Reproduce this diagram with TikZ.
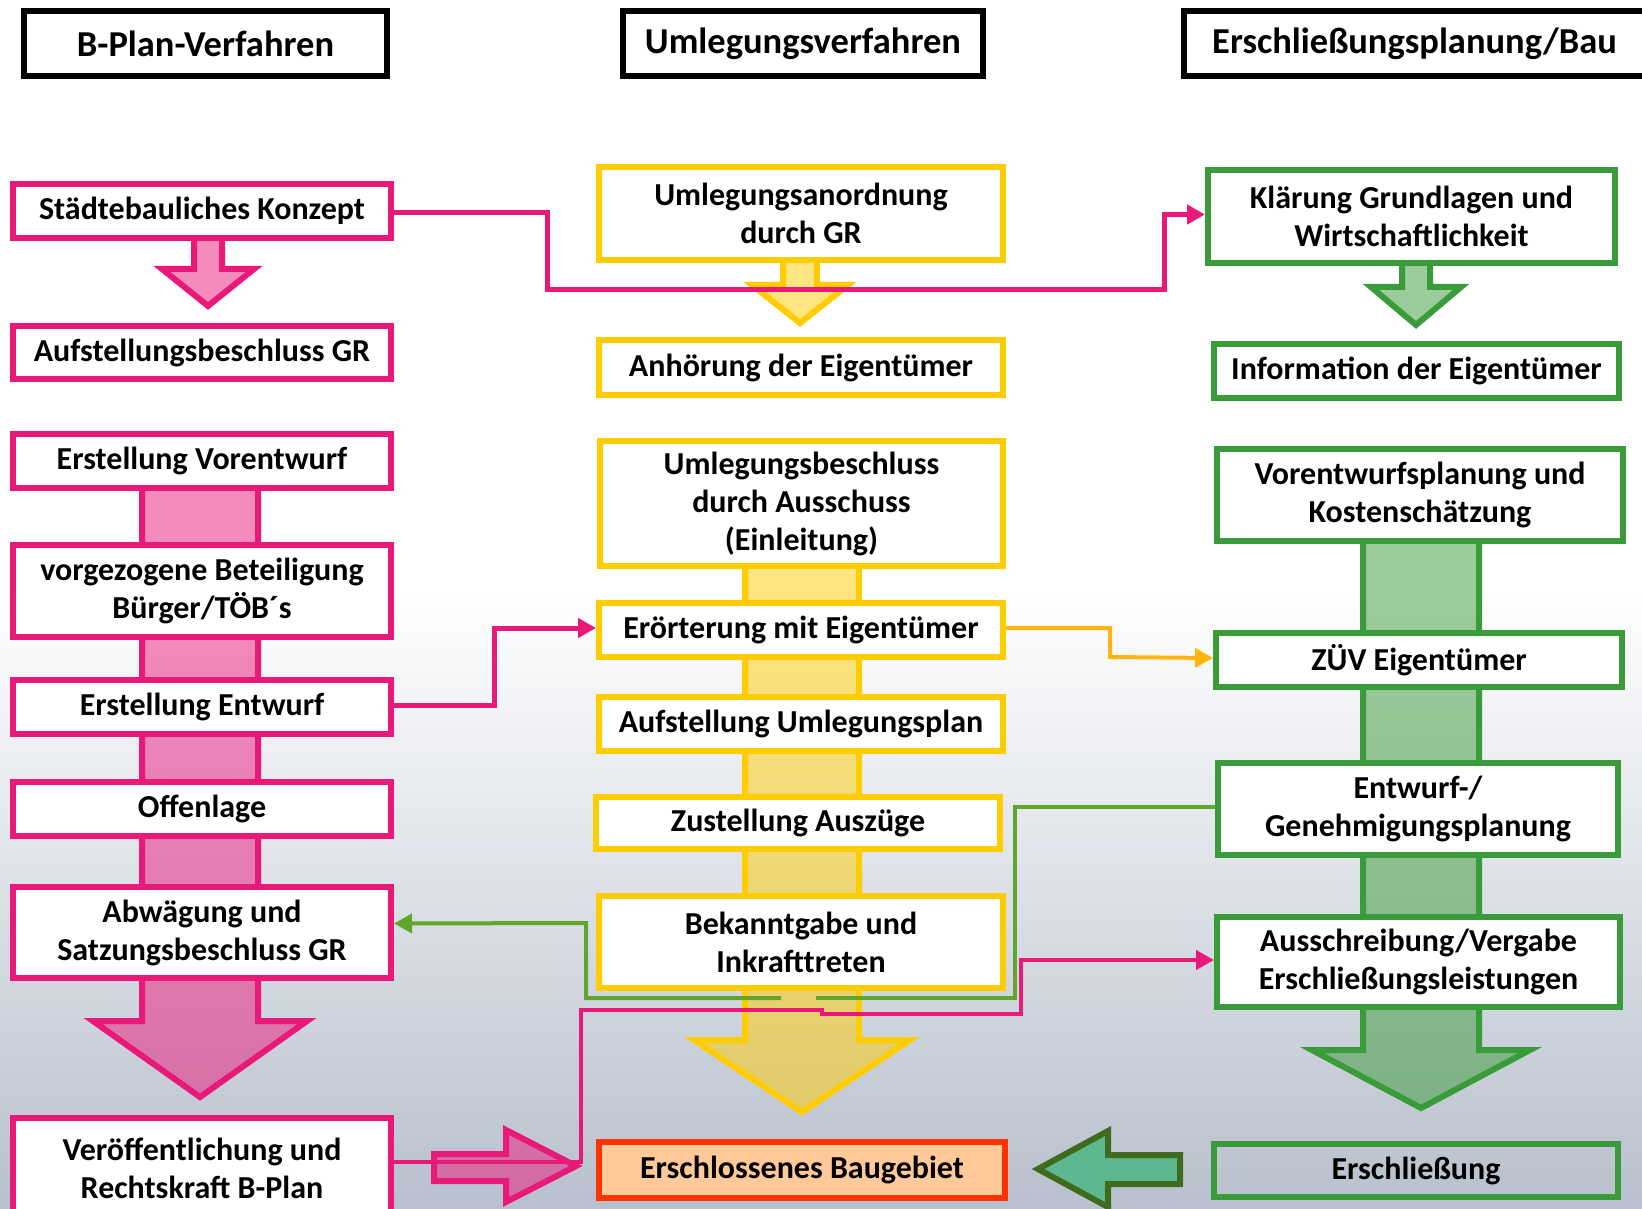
\documentclass[tikz,border=0pt]{standalone}
\usepackage{fontspec}
\setmainfont{Carlito}
\usetikzlibrary{positioning, arrows.meta}

\definecolor{planColor}{RGB}{233,25,122}
\definecolor{umlegColor}{RGB}{255,204,0}
\definecolor{bauColor}{RGB}{57,155,57}
\definecolor{linkOrange}{RGB}{255,181,14}
\definecolor{linkGreen}{RGB}{96,165,44}
\definecolor{goalFill}{RGB}{255,201,153}
\definecolor{goalBorder}{RGB}{255,51,0}
\definecolor{bgBottom}{RGB}{184,192,205}
\definecolor{tealFill}{RGB}{92,184,142}
\definecolor{oliveBorder}{RGB}{63,107,30}

\tikzstyle{stepText} = [font=\fontsize{32}{38}\selectfont\bfseries, align=center, inner sep=0pt, yshift=-2pt]
\tikzstyle{headBox} = [stepText, draw=black, line width=6, fill=white, font=\fontsize{36.5}{42}\selectfont\bfseries]
\tikzstyle{planBox} = [stepText, draw=planColor, line width=6, fill=white]
\tikzstyle{umlegBox} = [stepText, draw=umlegColor, line width=6, fill=white]
\tikzstyle{bauBox} = [stepText, draw=bauColor, line width=6, fill=white]
\tikzstyle{goalBox} = [stepText, draw=goalBorder, line width=6, fill=goalFill]
\tikzstyle{planArrow} = [draw=planColor, line width=6, fill=planColor, fill opacity=0.5, line join=miter]
\tikzstyle{umlegArrow} = [draw=umlegColor, line width=6, fill=umlegColor, fill opacity=0.5, line join=miter]
\tikzstyle{bauArrow} = [draw=bauColor, line width=6, fill=bauColor, fill opacity=0.5, line join=miter]
\tikzstyle{goalArrow} = [draw=oliveBorder, line width=6, fill=tealFill, line join=miter]
\tikzstyle{linkTip} = [-{Triangle[length=18pt, width=19pt]}]
\tikzstyle{planLink} = [draw=planColor, line width=5]
\tikzstyle{orangeLink} = [draw=linkOrange, line width=4]
\tikzstyle{greenLink} = [draw=linkGreen, line width=4]

% box from (x1,y1) to (x2,y2), outer edges in pixels
\newcommand{\stepBox}[7]{\node [#1, minimum width = #5 - #3 - 6, minimum height = #6 - #4 - 6] (#2) at ({(#3 + #5) / 2}, {(#4 + #6) / 2}) {#7};}
% downward block arrow: centre, half shaft, half head, top, head start, tip
\newcommand{\arrowDown}[7]{\filldraw [#1] (#2 - #3, #5) -- (#2 + #3, #5) -- (#2 + #3, #6) -- (#2 + #4, #6) -- (#2, #7) -- (#2 - #4, #6) -- (#2 - #3, #6) -- cycle;}

\begin{document}
\begin{tikzpicture}[x=1pt, y=-1pt]
  \useasboundingbox (0,0) rectangle (1642,1209);
  \clip (0,0) rectangle (1642,1209);
  \fill [white] (0,0) rectangle (1642,1209);
  \shade [top color=white, bottom color=bgBottom] (0,590) rectangle (1642,1209);

  % block arrows
  \arrowDown{planArrow}{208}{14}{46}{236}{269}{306}
  \arrowDown{planArrow}{200}{58}{107}{459}{1021}{1097}
  \arrowDown{umlegArrow}{800}{17}{48}{258}{285}{323}
  \arrowDown{umlegArrow}{802}{57}{108}{500}{1040}{1112}
  \arrowDown{bauArrow}{1416}{14}{45}{262}{287}{325}
  \arrowDown{bauArrow}{1421}{58}{109}{493}{1050}{1108}
  \filldraw [planArrow] (434,1154) -- (506,1154) -- (506,1130) -- (576,1166) -- (506,1202) -- (506,1181) -- (434,1181) -- cycle;
  \filldraw [goalArrow] (1180,1155) -- (1108,1155) -- (1108,1131) -- (1038,1169) -- (1108,1207) -- (1108,1184) -- (1180,1184) -- cycle;

  % headers
  \stepBox{headBox}{bplanHead}{21}{6}{390}{77}{B-Plan-Verfahren}
  \stepBox{headBox}{umlegHead}{620}{6}{986}{77}{Umlegungsverfahren}
  \stepBox{headBox}{bauHead}{1181}{6}{1648}{77}{Erschließungsplanung/Bau}

  % B-Plan
  \stepBox{planBox}{konzept}{10}{179}{394}{239}{Städtebauliches Konzept}
  \stepBox{planBox}{aufstellung}{10}{321}{394}{380}{Aufstellungsbeschluss GR}
  \stepBox{planBox}{vorentwurf}{10}{429}{394}{489}{Erstellung Vorentwurf}
  \stepBox{planBox}{beteiligung}{10}{540}{394}{638}{vorgezogene Beteiligung\\Bürger/TÖB´s}
  \stepBox{planBox}{entwurf}{10}{675}{394}{735}{Erstellung Entwurf}
  \stepBox{planBox}{offenlage}{10}{777}{394}{837}{Offenlage}
  \stepBox{planBox}{abwaegung}{10}{882}{394}{979}{Abwägung und\\Satzungsbeschluss GR}
  \stepBox{planBox}{veroeff}{10}{1113}{394}{1219}{Veröffentlichung und\\Rechtskraft B-Plan}

  % Umlegung
  \stepBox{umlegBox}{anordnung}{596}{162}{1006}{261}{Umlegungsanordnung\\durch GR}
  \stepBox{umlegBox}{anhoerung}{596}{335}{1006}{396}{Anhörung der Eigentümer}
  \stepBox{umlegBox}{beschluss}{597}{436}{1006}{567}{Umlegungsbeschluss\\durch Ausschuss\\(Einleitung)}
  \stepBox{umlegBox}{eroerterung}{596}{598}{1006}{658}{Erörterung mit Eigentümer}
  \stepBox{umlegBox}{umlegPlan}{596}{692}{1006}{752}{Aufstellung Umlegungsplan}
  \stepBox{umlegBox}{zustellung}{593}{792}{1003}{850}{Zustellung Auszüge}
  \stepBox{umlegBox}{bekanntgabe}{596}{891}{1006}{989}{Bekanntgabe und\\Inkrafttreten}
  \stepBox{goalBox}{baugebiet}{596}{1137}{1008}{1199}{Erschlossenes Baugebiet}

  % Erschliessung
  \stepBox{bauBox}{klaerung}{1205}{165}{1618}{264}{Klärung Grundlagen und\\Wirtschaftlichkeit}
  \stepBox{bauBox}{information}{1211}{339}{1622}{399}{Information der Eigentümer}
  \stepBox{bauBox}{vorplanung}{1214}{444}{1626}{542}{Vorentwurfsplanung und\\Kostenschätzung}
  \stepBox{bauBox}{zuev}{1213}{628}{1625}{688}{ZÜV Eigentümer}
  \stepBox{bauBox}{genehm}{1215}{758}{1621}{856}{Entwurf-/\\Genehmigungsplanung}
  \stepBox{bauBox}{ausschreibung}{1214}{912}{1623}{1008}{Ausschreibung/Vergabe\\Erschließungsleistungen}
  \stepBox{bauBox, fill=none}{erschliessung}{1211}{1139}{1621}{1198}{Erschließung}

  % connectors
  \draw [planLink, linkTip] ([yshift=-2pt]konzept.east) -| (547,290) -- (1164,290) |- ([yshift=2pt]klaerung.west);
  \draw [planLink, linkTip] ([yshift=2pt]entwurf.east) -| (494,628) -- ([yshift=2pt]eroerterung.west);
  \draw [orangeLink, linkTip] ([yshift=2pt]eroerterung.east) -| (1110,657) -- ([yshift=2pt]zuev.west);
  \draw [greenLink] ([yshift=2pt]genehm.west) -| (1015,998) -- (816,998);
  \draw [greenLink, linkTip] (781,998) -| (586,923) -- ([yshift=9pt]abwaegung.east);
  \draw [planLink, line width=4, linkTip] ([yshift=6pt]veroeff.east) -- (581,1162) -- (581,1010) -- (822,1010) -- (822,1014) -- (1021,1014) |- ([yshift=2pt]ausschreibung.west);
\end{tikzpicture}
\end{document}
